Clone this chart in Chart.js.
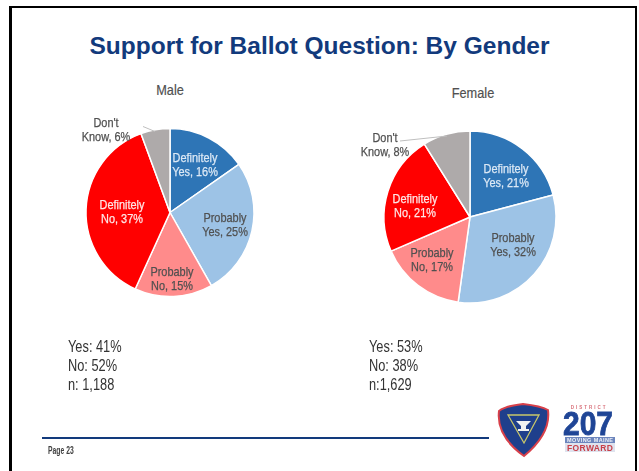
<!DOCTYPE html>
<html>
<head>
<meta charset="utf-8">
<title>Support for Ballot Question: By Gender</title>
<script src="https://cdn.jsdelivr.net/npm/chart.js@4/dist/chart.umd.min.js"></script>
<style>
  html, body { margin: 0; padding: 0; background: #fff; }
  body { position: relative; width: 639px; height: 471px; overflow: hidden; font-family: "Liberation Sans", sans-serif; }
  .abs { position: absolute; white-space: nowrap; }
  #frame { left: 9px; top: 6px; width: 623px; height: 480px; border: solid #000; border-width: 2px 2px 3px 3px; }
  #title { left: 0; width: 639px; top: 32px; text-align: center; font: bold 24.5px "Liberation Sans", sans-serif; color: #123a7c; }
  .pie-title { font-size: 15px; color: #505050; -webkit-text-stroke: 0.2px #505050; transform: translateX(-50%) scaleX(0.85); }
  .totals { font-size: 16px; line-height: 19px; color: #333; transform: scaleX(0.8); transform-origin: left top; }
  #rule { left: 42px; top: 437px; width: 447px; height: 1.5px; background: #123a7c; }
  #page { left: 48px; top: 445px; font-size: 10px; font-weight: bold; color: #404040; transform: scaleX(0.68); transform-origin: left top; }
  canvas { position: absolute; }
  #logos { left: 495px; top: 400px; filter: blur(0.4px); }
</style>
</head>
<body>
<div class="abs" id="frame"></div>
<div class="abs" id="title">Support for Ballot Question: By Gender</div>
<div class="abs pie-title" style="left:170px;top:81px">Male</div>
<div class="abs pie-title" style="left:473px;top:84px">Female</div>

<canvas id="male-pie" width="220" height="219" style="left:60px;top:103px"></canvas>
<canvas id="female-pie" width="240" height="220" style="left:350px;top:107px"></canvas>

<div class="abs totals" style="left:68px;top:337px">Yes: 41%<br>No: 52%<br>n: 1,188</div>
<div class="abs totals" style="left:369px;top:337px">Yes: 53%<br>No: 38%<br>n:1,629</div>

<div class="abs" id="rule"></div>
<div class="abs" id="page">Page 23</div>

<svg class="abs" id="logos" width="130" height="60" viewBox="0 0 130 60">
  <path d="M4 11 Q10 6 28 4 Q46 6 53 10 Q56 34 29 56 Q1 36 4 11Z" fill="#1f3f8c" stroke="#d8404a" stroke-width="2"/>
  <path d="M13 15 L44 15 L29 43Z" fill="none" stroke="#c9c76a" stroke-width="1.3"/>
  <path d="M21 21 h15 l-5 5 v3 h3 v2 h-11 v-2 h3 v-3Z" fill="#f2f2f2"/>
  <text x="94" y="8.5" text-anchor="middle" font-family="Liberation Sans" font-weight="bold" font-size="4.5" letter-spacing="2" fill="#d8707a">DISTRICT</text>
  <text x="93" y="35" text-anchor="middle" font-family="Liberation Sans" font-weight="bold" font-size="33" fill="#1f4596" stroke="#1f4596" stroke-width="0.8" textLength="50" lengthAdjust="spacingAndGlyphs">207</text>
  <rect x="70" y="37" width="50" height="6" fill="#6d86bd"/>
  <text x="95" y="42" text-anchor="middle" font-family="Liberation Sans" font-weight="bold" font-size="5.5" fill="#eef1f8" textLength="46">MOVING MAINE</text>
  <rect x="70" y="43" width="50" height="9" fill="#dfe3ee"/>
  <text x="95" y="51" text-anchor="middle" font-family="Liberation Sans" font-weight="bold" font-size="8.5" fill="#c8404a" textLength="46">FORWARD</text>
</svg>

<script>
// ── Data ─────────────────────────────────────────────────────────────────────
const categories = ["Definitely Yes", "Probably Yes", "Probably No", "Definitely No", "Don't Know"];
// slice shares
const maleShares = [15.3, 26.5, 15, 37.6, 5.6];
const femaleShares = [20.9, 31.3, 16.3, 22.6, 8.9];
// percentages as printed on the labels
const malePrinted = [16, 25, 15, 37, 6];
const femalePrinted = [21, 32, 17, 21, 8];

const sliceColors = ["#2e75b6", "#9dc3e6", "#ff8b8b", "#ff0000", "#aeaaaa"];
const labelColors = ["#dbe8f5", "#505050", "#505050", "#ffe6e6", "#505050"];

// ── Label plugin: two line labels, offsets are from the pie centre ───────────
const NARROW = 0.84; // no narrow font installed, squeeze the regular one

const sliceLabels = {
  id: "sliceLabels",
  afterDatasetsDraw(chart, args, opts) {
    const ctx = chart.ctx;
    const arcs = chart.getDatasetMeta(0).data;
    ctx.save();
    ctx.font = '13px "Liberation Sans", sans-serif';
    ctx.textAlign = "center";
    ctx.textBaseline = "middle";
    arcs.forEach((arc, i) => {
      const [dx, dy] = opts.offsets[i];
      const words = categories[i].split(" ");
      ctx.save();
      ctx.translate(arc.x + dx, arc.y + dy + 1);
      ctx.scale(NARROW, 1);
      ctx.fillStyle = labelColors[i];
      ctx.strokeStyle = labelColors[i];
      ctx.lineWidth = 0.25;
      [[words[0], -7], [words[1] + ", " + opts.printed[i] + "%", 7]].forEach(([text, y]) => {
        ctx.fillText(text, 0, y);
        ctx.strokeText(text, 0, y);
      });
      ctx.restore();
    });
    // leader line for the outside label
    const [x1, y1, x2, y2] = opts.leader;
    const c = arcs[0];
    ctx.strokeStyle = "#bfbfbf";
    ctx.lineWidth = 1;
    ctx.beginPath();
    ctx.moveTo(c.x + x1, c.y + y1);
    ctx.lineTo(c.x + x2, c.y + y2);
    ctx.stroke();
    ctx.restore();
  },
};

// ── Charts ───────────────────────────────────────────────────────────────────
function renderPie(id, shares, printed, radius, offsets, leader) {
  return new Chart(document.getElementById(id), {
    type: "pie",
    data: {
      labels: categories,
      datasets: [{
        data: shares,
        backgroundColor: sliceColors,
        borderColor: "#fff",
        borderWidth: 1.5,
        radius: radius,
      }],
    },
    options: {
      responsive: false,
      animation: false,
      layout: { padding: 0 },
      plugins: {
        legend: { display: false },
        tooltip: { enabled: false },
        sliceLabels: { printed, offsets, leader },
      },
    },
    plugins: [sliceLabels],
  });
}

renderPie("male-pie", maleShares, malePrinted, 84,
  [[25, -48], [55, 12], [2, 66], [-48, -1], [-64, -83]],
  [-27, -86, -15, -81]);
renderPie("female-pie", femaleShares, femalePrinted, 86,
  [[36, -42], [43, 27], [-38, 42], [-55, -12], [-85, -73]],
  [-70, -76, -23, -81]);
</script>
</body>
</html>
